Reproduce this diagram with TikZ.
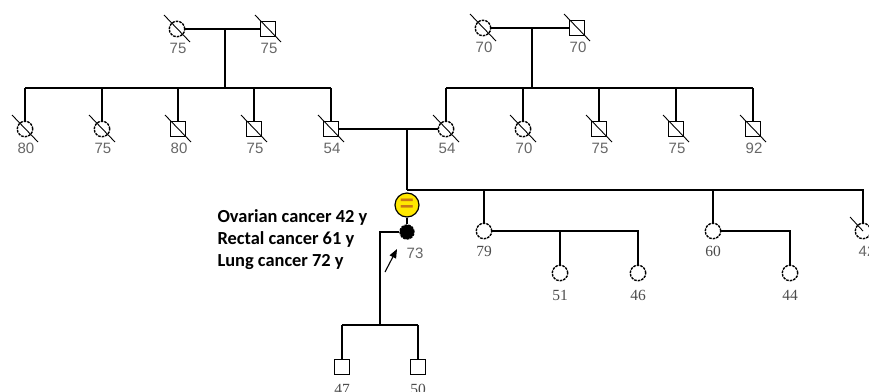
\documentclass[tikz,border=0pt]{standalone}
\usepackage{fontspec}
\setmainfont{Liberation Serif}
\newfontfamily\agefont{Liberation Sans}
\newfontfamily\notefont{Carlito}
\usepackage{xcolor}
\usetikzlibrary{arrows.meta}
\usetikzlibrary{calc}

\definecolor{symyellow}{RGB}{255,232,0}
\definecolor{eqorange}{RGB}{200,120,20}

\begin{document}
\begin{tikzpicture}[x=1pt, y=-1pt,
    ml/.style={draw, rectangle, minimum size=15pt, inner sep=0pt, line width=1.4pt},
    fl/.style={draw, circle, minimum size=15.5pt, inner sep=0pt, line width=1.4pt,
               dash pattern=on 2.6pt off 1pt},
    ag/.style={font=\agefont\fontsize{15}{15}\selectfont, text=black!60},
    ags/.style={font=\fontsize{15.5}{15.5}\selectfont, text=black!70},
    dd/.style={line width=0.9pt},
    ln/.style={line width=1.3pt}]
  \useasboundingbox (0,0) rectangle (869,391);

  % grandparents
  \node[fl] (gm1) at (177,29) {};
  \node[ml] (gf1) at (268,29) {};
  \node[fl] (gm2) at (483,28) {};
  \node[ml] (gf2) at (577,28) {};
  \foreach \n/\a in {gm1/75, gf1/75, gm2/70, gf2/70}{
    \node[ag] (l\n) at ([shift={(1,19)}]\n.center) {\a};
    \draw[dd] ([shift={(-13,-14)}]\n.center) -- ([shift={(13,13)}]\n.center);}
  \draw[ln] (gm1) -- (gf1);
  \draw[ln] (gm2) -- (gf2);
  \coordinate (d1) at (225,88);
  \coordinate (d2) at (532,88);
  \draw[ln] (d1 |- gm1) -- (d1);
  \draw[ln] (d2 |- gm2) -- (d2);

  % their children
  \foreach \x/\s/\a [count=\i] in {25/fl/80, 102/fl/75, 178/ml/80, 254/ml/75, 331/ml/54}{
    \node[\s] (a\i) at (\x,129) {};
    \node[ag] (la\i) at (\x+1,148) {\a};
    \draw[ln] (a\i.north) -- (a\i |- d1);
    \draw[dd] ([shift={(-13,-14)}]a\i.center) -- ([shift={(13,13)}]a\i.center);}
  \foreach \x/\s/\a [count=\i] in {446/fl/54, 523/fl/70, 599/ml/75, 676/ml/75, 753/ml/92}{
    \node[\s] (b\i) at (\x,129) {};
    \node[ag] (lb\i) at (\x+1,148) {\a};
    \draw[ln] (b\i.north) -- (b\i |- d2);
    \draw[dd] ([shift={(-13,-14)}]b\i.center) -- ([shift={(13,13)}]b\i.center);}
  \draw[ln] (a1 |- d1) -- (a5 |- d1);
  \draw[ln] (b1 |- d2) -- (b5 |- d2);

  % parents 54 + 54
  \draw[ln] (a5) -- (b1);
  \coordinate (d3) at (407,190);
  \draw[ln] (d3 |- a5) -- (d3);

  % sibship
  \node[draw, circle, fill=symyellow, minimum size=24pt, inner sep=0pt, line width=1.2pt,
        text=eqorange, font=\agefont\bfseries\fontsize{24}{24}\selectfont] (pq) at (407,205) {=};
  \node[fl, fill=black, minimum size=14pt] (pb) at (407,232) {};
  \node[ag] (lpb) at (415,253) {73};
  \draw[ln] (pq) -- (pb);
  \coordinate (ar) at (385,272);
  \draw[line width=1.1pt, -{Triangle[length=9pt,width=7pt]}] (ar) -- ([shift={(-10,17)}]pb.center);

  \node[fl] (e1) at (484,231) {};
  \node[fl] (e2) at (713,231) {};
  \node[fl] (e3) at (863,231) {};
  \draw[dd] ([shift={(-13,-14)}]e3.center) -- (e3.center);
  \draw[ln] (d3) -- (e3 |- d3) -- (e3.north);
  \draw[ln] (e1.north) -- (e1 |- d3);
  \draw[ln] (e2.north) -- (e2 |- d3);
  \node[ags] (le1) at (484,251) {79};
  \node[ags] (le2) at (713,251) {60};
  \node[ag] (le3) at (867,251) {42};

  % next generation
  \node[fl] (g1) at (560,273) {};
  \node[fl] (g2) at (638,273) {};
  \node[fl] (h1) at (790,273) {};
  \draw[ln] (e1.east) -| (g2.north);
  \draw[ln] (g1.north) -- (g1 |- e1);
  \draw[ln] (e2.east) -| (h1.north);
  \node[ags] (lg1) at (560,295) {51};
  \node[ags] (lg2) at (638,295) {46};
  \node[ags] (lh1) at (790,295) {44};

  \coordinate (d4) at (380,325);
  \node[ml] (k1) at (342,367) {};
  \node[ml] (k2) at (418,367) {};
  \draw[ln] (pb.west) -| (d4);
  \draw[ln] (k1 |- d4) -- (k2 |- d4);
  \draw[ln] (k1.north) -- (k1 |- d4);
  \draw[ln] (k2.north) -- (k2 |- d4);
  \node[ags] (lk1) at (342,389) {47};
  \node[ags] (lk2) at (418,389) {50};

  % history
  \node[anchor=west, align=left, font=\notefont\bfseries\fontsize{18.4}{22}\selectfont]
    (hx) at (214,240) {Ovarian cancer 42 y\\Rectal cancer 61 y\\Lung cancer 72 y};
\end{tikzpicture}
\end{document}
